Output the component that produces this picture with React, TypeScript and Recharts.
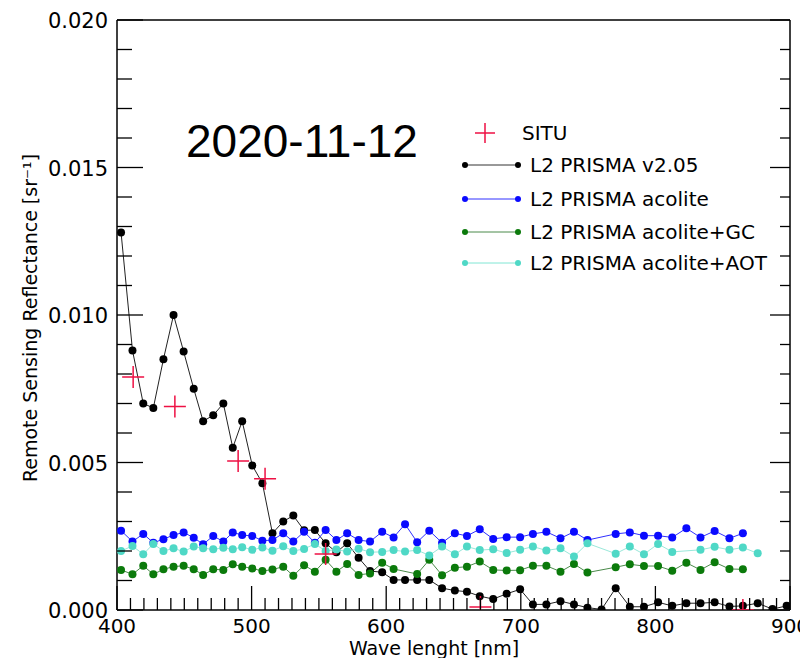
import { ComposedChart, Line, Scatter, XAxis, YAxis } from 'recharts'

// PRISMA band centres [nm]
const wavelengths = [
  403, 411.5, 419.5, 427, 434.5, 442, 449.5, 457, 464, 471.5, 479, 486, 493, 500.5, 508, 515.5,
  523.5, 531, 539, 547, 555, 563, 571, 579.5, 588, 597, 605.5, 614, 623, 632, 641.5, 651, 660,
  669.5, 679.5, 689.5, 699.5, 709, 719, 729.5, 739.5, 749.5, 760, 770.5, 781, 791.5, 802, 812.5,
  823, 833.5, 844, 855, 865, 876, 887, 897.5,
]

const prismaV205 = [
  0.0128, 0.0088, 0.007, 0.00685, 0.0085, 0.01, 0.00876, 0.0075, 0.0064, 0.0066, 0.007, 0.0055,
  0.0064, 0.0049, 0.0043, 0.0026, 0.003, 0.0032, 0.0027, 0.00271, 0.00226, 0.00196, 0.00226,
  0.00177, 0.00132, 0.00128, 0.00102, 0.00102, 0.00102, 0.00102, 0.00074, 0.00066, 0.00062,
  0.00047, 0.00037, 0.00055, 0.0007, 0.00019, 0.00019, 0.0003, 0.00019, 0.00008, 0.00002, 0.00074,
  0.00011, 0.00011, 0.00026, 0.00014, 0.00023, 0.00023, 0.00026, 0.00012, 0.00014, 0.00023,
  0.00003, 0.00014,
]

const acolite = [
  0.00269, 0.00232, 0.00258, 0.00228, 0.0024, 0.00254, 0.00263, 0.00245, 0.00223, 0.00251, 0.00232,
  0.00263, 0.00254, 0.00251, 0.00235, 0.00237, 0.0026, 0.00232, 0.00265, 0.00228, 0.00271, 0.00237,
  0.0026, 0.00237, 0.00232, 0.00265, 0.00246, 0.00291, 0.0023, 0.00269, 0.00228, 0.0026, 0.00251,
  0.00274, 0.00241, 0.00247, 0.00247, 0.00258, 0.00265, 0.00243, 0.00265, 0.00237, null, 0.00258,
  0.00263, 0.00252, 0.00252, 0.00246, 0.00277, 0.00246, 0.00268, 0.00243, 0.0026, null, null, null,
]

const acoliteGC = [
  0.00136, 0.00121, 0.0015, 0.00121, 0.00138, 0.00147, 0.0015, 0.00138, 0.00119, 0.00138, 0.00136,
  0.00155, 0.00147, 0.00141, 0.00132, 0.00137, 0.00147, 0.00116, 0.00152, 0.0013, 0.0017, 0.0013,
  0.00156, 0.00119, 0.00124, 0.0016, 0.00139, null, 0.00122, 0.0017, 0.00118, 0.00143, 0.00147,
  0.00164, 0.00136, 0.00134, 0.00135, 0.0015, 0.0015, 0.0013, 0.00156, 0.00127, null, 0.00145,
  0.00155, 0.00149, 0.00149, 0.00133, 0.0016, 0.00136, 0.00162, 0.00139, 0.00138, null, null, null,
]

const acoliteAOT = [
  0.002, 0.00217, 0.00189, 0.00224, 0.002, 0.00209, 0.00198, 0.00215, 0.00209, 0.00206, 0.00211,
  0.00206, 0.00213, 0.00204, 0.00212, 0.00201, 0.00216, 0.002, 0.00207, 0.00224, 0.002, 0.00205,
  0.00198, 0.00208, 0.00196, 0.00197, 0.00203, 0.00198, 0.00203, 0.00185, 0.00215, 0.00189, 0.00215,
  0.00203, 0.00206, 0.00193, 0.00204, 0.00215, 0.00202, 0.00209, 0.00181, 0.00226, null, 0.00191,
  0.00215, 0.00189, 0.00224, 0.00197, null, 0.00204, 0.00214, 0.00204, 0.00212, 0.00192, null, null,
]

const situWavelengths = [412, 443, 490, 510, 555, 670, 865]
const situValues = [0.0079, 0.0069, 0.00505, 0.00445, 0.0019, 0.0001, 0.0]

const xMajorTicks = [400, 500, 600, 700, 800, 900]
const xTicks = Array.from({ length: 51 }, (_, i) => 400 + i * 10)
const yTickLabels = ['0.000', '0.005', '0.010', '0.015', '0.020']
const yTicks = Array.from({ length: 21 }, (_, i) => i * 0.001)

const data = wavelengths.map((wl, i) => ({
  wl,
  v205: prismaV205[i],
  acolite: acolite[i],
  gc: acoliteGC[i],
  aot: acoliteAOT[i],
}))

const situData = situWavelengths.map((wl, i) => ({ wl, situ: situValues[i] }))

const SITU_COLOR = '#ee1144'
const FONT = 'DejaVu Sans'
const TICK_FONT = 20

const isMajorY = (v: number) => Math.abs(v / 0.005 - Math.round(v / 0.005)) < 1e-6
const yLabel = (v: number) => yTickLabels[Math.round(v / 0.005)]

// matplotlib-style inward ticks, drawn per side
const BottomTick = (props: any) => {
  const { x, y, payload } = props
  const major = xMajorTicks.includes(payload.value)
  return (
    <g>
      <line x1={x} x2={x} y1={y} y2={y - (major ? 24 : 12)} stroke="#000" strokeWidth={1.3} />
      {major && (
        <text x={x} y={y + 23} textAnchor="middle" fontFamily={FONT} fontSize={TICK_FONT} fill="#000">
          {payload.value}
        </text>
      )}
    </g>
  )
}

const TopTick = (props: any) => {
  const { x, y, payload } = props
  const major = xMajorTicks.includes(payload.value)
  return <line x1={x} x2={x} y1={y} y2={y + (major ? 20 : 10)} stroke="#000" strokeWidth={1.3} />
}

const LeftTick = (props: any) => {
  const { x, y, payload } = props
  const major = isMajorY(payload.value)
  return (
    <g>
      <line x1={x} x2={x + (major ? 26 : 15)} y1={y} y2={y} stroke="#000" strokeWidth={1.3} />
      {major && (
        <text x={x - 9} y={y + 8} textAnchor="end" fontFamily={FONT} fontSize={21} fill="#000">
          {yLabel(payload.value)}
        </text>
      )}
    </g>
  )
}

const RightTick = (props: any) => {
  const { x, y, payload } = props
  const major = isMajorY(payload.value)
  return <line x1={x} x2={x - (major ? 20 : 10)} y1={y} y2={y} stroke="#000" strokeWidth={1.3} />
}

const Plus = (props: any) => {
  const { cx, cy } = props
  if (cx == null || cy == null) return null
  return (
    <path
      d={`M${cx - 11},${cy}H${cx + 11}M${cx},${cy - 11}V${cy + 11}`}
      stroke={SITU_COLOR}
      strokeWidth={1.5}
      fill="none"
    />
  )
}

const legendRows = [
  { label: 'L2 PRISMA v2.05', line: '#333333', dot: '#000000', y: 157 },
  { label: 'L2 PRISMA acolite', line: '#3030ff', dot: '#0a0aff', y: 191 },
  { label: 'L2 PRISMA acolite+GC', line: '#4a8a4a', dot: '#0b7a0b', y: 224 },
  { label: 'L2 PRISMA acolite+AOT', line: '#80e6d4', dot: '#4fd8c6', y: 255 },
]

export default function App() {
  const axisLine = { stroke: '#000', strokeWidth: 1.5 }

  return (
    <div style={{ position: 'relative', width: 800, height: 650, background: '#fff' }}>
      <ComposedChart
        width={800}
        height={650}
        data={data}
        margin={{ top: 11, right: 17, bottom: 8, left: 9 }}
      >
        <XAxis
          dataKey="wl"
          type="number"
          domain={[400, 900]}
          allowDataOverflow
          ticks={xTicks}
          interval={0}
          tickLine={false}
          tickSize={0}
          tickMargin={0}
          axisLine={axisLine}
          height={40}
          tick={<BottomTick />}
        />
        <XAxis
          xAxisId="top"
          orientation="top"
          type="number"
          domain={[400, 900]}
          allowDataOverflow
          ticks={xTicks}
          interval={0}
          tickLine={false}
          tickSize={0}
          tickMargin={0}
          axisLine={axisLine}
          height={1}
          tick={<TopTick />}
        />
        <YAxis
          type="number"
          domain={[0, 0.02]}
          allowDataOverflow
          ticks={yTicks}
          interval={0}
          tickLine={false}
          tickSize={0}
          tickMargin={0}
          axisLine={axisLine}
          width={100}
          tick={<LeftTick />}
        />
        <YAxis
          yAxisId="right"
          orientation="right"
          type="number"
          domain={[0, 0.02]}
          allowDataOverflow
          ticks={yTicks}
          interval={0}
          tickLine={false}
          tickSize={0}
          tickMargin={0}
          axisLine={axisLine}
          width={1}
          tick={<RightTick />}
        />

        <Line
          dataKey="v205"
          stroke="#222222"
          strokeWidth={1}
          dot={{ r: 4, fill: '#000', stroke: '#000', strokeWidth: 0 }}
          activeDot={false}
          connectNulls
          isAnimationActive={false}
        />
        <Line
          dataKey="acolite"
          stroke="#3030ff"
          strokeWidth={1}
          dot={{ r: 4, fill: '#0a0aff', stroke: '#0a0aff', strokeWidth: 0 }}
          activeDot={false}
          connectNulls
          isAnimationActive={false}
        />
        <Line
          dataKey="gc"
          stroke="#4a8a4a"
          strokeWidth={1}
          dot={{ r: 4, fill: '#0b7a0b', stroke: '#0b7a0b', strokeWidth: 0 }}
          activeDot={false}
          connectNulls
          isAnimationActive={false}
        />
        <Line
          dataKey="aot"
          stroke="#9ae8da"
          strokeWidth={1}
          dot={{ r: 4, fill: '#4fd8c6', stroke: '#4fd8c6', strokeWidth: 0 }}
          activeDot={false}
          connectNulls
          isAnimationActive={false}
        />
        <Scatter data={situData} dataKey="situ" shape={<Plus />} isAnimationActive={false} />
      </ComposedChart>

      <svg
        width={800}
        height={650}
        style={{ position: 'absolute', left: 0, top: 0, pointerEvents: 'none' }}
      >
        <text x={178} y={149} fontFamily="Liberation Sans" fontSize={46} fill="#000">
          2020-11-12
        </text>

        <path d="M467,125H487M477,115V135" stroke={SITU_COLOR} strokeWidth={1.5} fill="none" />
        <text x={514} y={132} fontFamily={FONT} fontSize={20} fill="#000">
          SITU
        </text>

        {legendRows.map((row) => (
          <g key={row.label}>
            <line x1={457} x2={510} y1={row.y} y2={row.y} stroke={row.line} strokeWidth={1} />
            <circle cx={457} cy={row.y} r={3} fill={row.dot} />
            <circle cx={510} cy={row.y} r={3} fill={row.dot} />
            <text x={522} y={row.y + 7} fontFamily={FONT} fontSize={20} fill="#000">
              {row.label}
            </text>
          </g>
        ))}

        <text x={426} y={647} textAnchor="middle" fontFamily={FONT} fontSize={19} fill="#000">
          Wave lenght [nm]
        </text>
        <text
          x={22}
          y={310}
          textAnchor="middle"
          dominantBaseline="central"
          transform="rotate(-90 22 310)"
          fontFamily={FONT}
          fontSize={19}
          fill="#000"
        >
          Remote Sensing Reflectance [sr⁻¹]
        </text>
      </svg>
    </div>
  )
}
